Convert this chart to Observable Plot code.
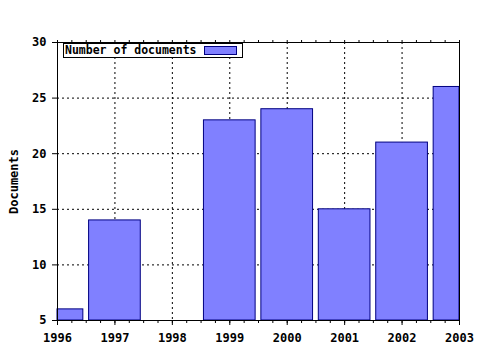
<!DOCTYPE html>
<html>
<head>
<meta charset="utf-8">
<script src="https://cdn.jsdelivr.net/npm/d3@7"></script>
<script src="https://cdn.jsdelivr.net/npm/@observablehq/plot@0.6"></script>
<style>
body { margin: 0; background: #fff; }
#wrap { position: relative; width: 480px; height: 350px; }
#legend {
  position: absolute; left: 63px; top: 43px; width: 178px; height: 13px;
  border: 1px solid #000; background: #fff;
  font: bold 11.5px "DejaVu Sans Mono", monospace; line-height: 13px;
}
#legend span.t { position: absolute; left: 1px; top: 0; }
#legend span.s { position: absolute; left: 140px; top: 2px; width: 31px; height: 7px; background: #8080ff; border: 1px solid #000080; }
</style>
</head>
<body>
<div id="wrap"><div id="legend"><span class="t">Number of documents</span><span class="s"></span></div></div>
<script>
const years = [1996, 1997, 1998, 1999, 2000, 2001, 2002, 2003];
const documents = [6, 14, 0, 23, 24, 15, 21, 26];
const yTicks = [5, 10, 15, 20, 25, 30];
const seriesName = "Number of documents";
const yLabel = "Documents";

const data = years.map((y, i) => ({year: y, value: documents[i]}));
const minorX = d3.range(1996, 2003.001, 0.25);
const font = 'bold 12px "DejaVu Sans Mono", monospace';

const chart = Plot.plot({
  width: 480,
  height: 350,
  marginLeft: 57,
  marginRight: 21,
  marginTop: 42,
  marginBottom: 30,
  style: {font, background: "#fff", color: "#000"},
  x: {domain: [1996, 2003], clamp: true},
  y: {domain: [5, 30], clamp: true},
  marks: [
    Plot.gridX(years, {stroke: "#000", strokeOpacity: 1, strokeDasharray: "2,3"}),
    Plot.gridY(yTicks, {stroke: "#000", strokeOpacity: 1, strokeDasharray: "2,3"}),
    Plot.rectY(data.filter(d => d.value > 5), {
      x1: d => d.year - 0.45, x2: d => d.year + 0.45,
      y1: 5, y2: "value",
      fill: "#8080ff", stroke: "#000080", strokeWidth: 1
    }),
    Plot.axisX(minorX, {tickSize: 3, text: null, label: null}),
    Plot.axisX(minorX, {anchor: "top", tickSize: 3, text: null, label: null}),
    Plot.axisX(years, {tickSize: 5, tickPadding: 8, tickFormat: d => String(d), label: null}),
    Plot.axisY(yTicks, {tickSize: 5, tickPadding: 6, label: null}),
    Plot.text([yLabel], {frameAnchor: "left", textAnchor: "middle", dx: -43, rotate: -90, text: d => d, fill: "#000"}),
    Plot.frame({stroke: "#000"})
  ]
});
document.getElementById("wrap").prepend(chart);
chart.style.position = "absolute";
chart.style.left = "0";
chart.style.top = "0";
</script>
</body>
</html>
